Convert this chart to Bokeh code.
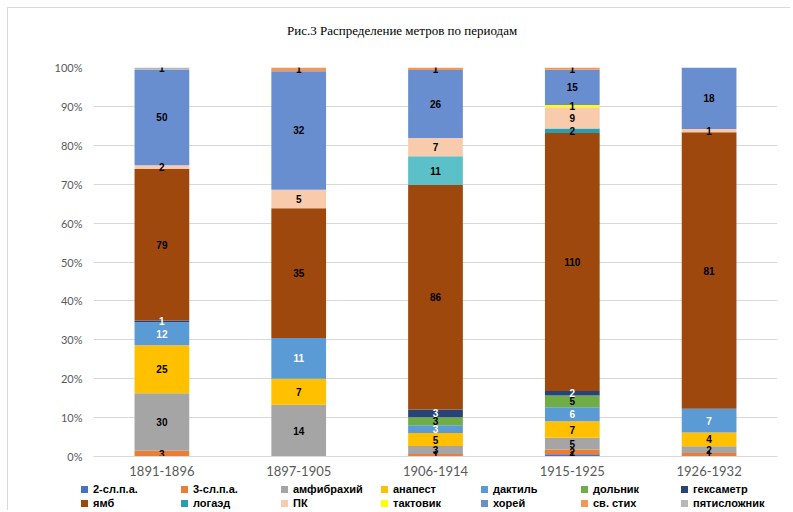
import numpy as np
import pandas as pd
from bokeh.plotting import figure
from bokeh.layouts import column
from bokeh.models import (ColumnDataSource, FactorRange, Range1d, Div,
                          NumeralTickFormatter, FixedTicker)
from bokeh.core.properties import value
from bokeh.embed import file_html
from bokeh.resources import INLINE

# ---------------- data ----------------
title_text = "Рис.3 Распределение метров по периодам"
periods = ["1891-1896", "1897-1905", "1906-1914", "1915-1925", "1926-1932"]
meters = ["2-сл.п.а.", "3-сл.п.а.", "амфибрахий", "анапест", "дактиль", "дольник",
          "гексаметр", "ямб", "логаэд", "ПК", "тактовик", "хорей", "св. стих", "пятисложник"]

two_syl = [0, 0, 0, 1, 0]
three_syl = [3, 0, 1, 2, 1]
amphibrach = [30, 14, 3, 5, 2]
anapest = [25, 7, 5, 7, 4]
dactyl = [12, 11, 3, 6, 7]
dolnik = [0, 0, 3, 5, 0]
hexameter = [1, 0, 3, 2, 0]
iamb = [79, 35, 86, 110, 81]
logaoed = [0, 0, 11, 2, 0]
pk = [2, 5, 7, 9, 1]
taktovik = [0, 0, 0, 1, 0]
trochee = [50, 32, 26, 15, 18]
free_verse = [0, 1, 1, 1, 0]
pentasyllable = [1, 0, 0, 0, 0]

series = [two_syl, three_syl, amphibrach, anapest, dactyl, dolnik, hexameter,
          iamb, logaoed, pk, taktovik, trochee, free_verse, pentasyllable]

# ---------------- styles ----------------
colors = ["#4472C4", "#ED7D31", "#A5A5A5", "#FFC000", "#5B9BD5", "#70AD47", "#264478",
          "#9E480E", "#2A9EB0", "#F8CBAD", "#FFFF00", "#698ED0", "#F1975A", "#B7B7B7"]
bar_color_override = {(8, 2): "#5BC0C8"}
label_colors = ["black", "black", "black", "black", "white", "black", "white",
                "black", "black", "black", "black", "black", "black", "black"]

counts = np.array(series, dtype=float)  # shape (14, 5)
totals = counts.sum(axis=0)
shares = counts / totals
tops = np.cumsum(shares, axis=0)
bottoms = tops - shares

W = 782

# ---------------- title (HTML) ----------------
title_div = Div(
    text=('<div style="padding-left:279px;padding-top:15px;font-family:\'Liberation Serif\';'
          'font-size:13px;line-height:16px;color:#000;white-space:nowrap;">'
          f'{title_text}</div>'),
    width=W, height=30, margin=0)

p = figure(x_range=FactorRange(*periods, range_padding=0), y_range=Range1d(0, 1),
           width=W, height=442, output_backend="svg", toolbar_location=None,
           min_border_left=85, min_border_right=13, min_border_top=29, min_border_bottom=24)

for i, name in enumerate(meters):
    fill = [bar_color_override.get((i, j), colors[i]) for j in range(len(periods))]
    src = ColumnDataSource(dict(x=periods, top=tops[i], bottom=bottoms[i], color=fill))
    p.vbar(x="x", top="top", bottom="bottom", width=0.4, source=src,
           fill_color="color", line_color=None)

lx, ly, lt, lc = [], [], [], []
for i in range(len(meters)):
    for j, per in enumerate(periods):
        if counts[i, j] > 0:
            lx.append(per)
            ly.append((tops[i, j] + bottoms[i, j]) / 2)
            lt.append(str(int(counts[i, j])))
            lc.append(label_colors[i])
lsrc = ColumnDataSource(dict(x=lx, y=ly, t=lt, c=lc))
p.text(x="x", y="y", text="t", source=lsrc, text_color="c",
       text_font=value("Liberation Sans"), text_font_size="10px", text_font_style="bold",
       text_align="center", text_baseline="middle")

p.yaxis.ticker = FixedTicker(ticks=[i / 10 for i in range(11)])
p.yaxis.formatter = NumeralTickFormatter(format="0%")
p.yaxis.axis_line_color = None
p.yaxis.major_tick_line_color = None
p.yaxis.minor_tick_line_color = None
p.yaxis.major_label_text_font = "Lato"
p.yaxis.major_label_text_font_size = "11px"
p.yaxis.major_label_text_color = "#595959"
p.yaxis.major_label_standoff = 5

p.xaxis.axis_line_color = "#D9D9D9"
p.xaxis.major_tick_line_color = None
p.xaxis.minor_tick_line_color = None
p.xaxis.major_label_text_font = "Lato"
p.xaxis.major_label_text_font_size = "13px"
p.xaxis.major_label_text_color = "#595959"
p.xaxis.major_label_standoff = 3

p.xgrid.grid_line_color = None
p.ygrid.grid_line_color = "#D9D9D9"
p.outline_line_color = None
p.border_fill_color = None

# ---------------- legend (HTML, built from the series lists) ----------------
cells = "".join(
    f'<div style="display:flex;align-items:center;white-space:nowrap;">'
    f'<span style="display:inline-block;width:7px;height:7px;background:{c};margin-right:5px;"></span>'
    f'{name}</div>'
    for name, c in zip(meters, colors)
)
legend_html = (
    '<div style="display:grid;grid-template-columns:repeat(7,100px);grid-auto-rows:14px;'
    'margin-left:73px;padding-top:2px;font-family:\'Liberation Sans\';font-size:11px;'
    f'font-weight:bold;color:#000;line-height:14px;">{cells}</div>'
)
legend_div = Div(text=legend_html, width=W, height=30, margin=0)

layout = column(title_div, p, legend_div, spacing=0,
                styles={"border-left": "1px solid #D9D9D9", "border-top": "1px solid #D9D9D9",
                        "border-right": "none", "overflow": "hidden",
                        "margin-left": "7px", "margin-top": "7px"})
open("out.html", "w").write(file_html(layout, INLINE))
